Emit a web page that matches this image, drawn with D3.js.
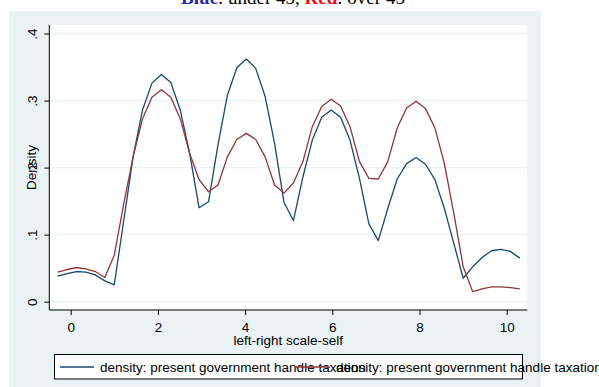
<!DOCTYPE html>
<html>
<head>
<meta charset="utf-8">
<script src="https://cdn.jsdelivr.net/npm/d3@7"></script>
<style>
  html, body { margin: 0; padding: 0; background: #ffffff; }
  svg { display: block; }
  text { font-family: "Liberation Sans", Arial, Helvetica, sans-serif; }
</style>
</head>
<body>
<svg id="chart" width="599" height="387"></svg>
<script>
// Kernel density estimates of the left-right self placement (0-10),
// evaluated on a common grid of 50 points.
const gridX = [
  -0.300, -0.084, 0.133, 0.349, 0.565, 0.782, 0.998, 1.214, 1.431, 1.647,
   1.863,  2.080, 2.296, 2.512, 2.729, 2.945, 3.161, 3.378, 3.594, 3.810,
   4.027,  4.243, 4.459, 4.676, 4.892, 5.108, 5.325, 5.541, 5.757, 5.974,
   6.190,  6.406, 6.623, 6.839, 7.055, 7.272, 7.488, 7.704, 7.921, 8.137,
   8.353,  8.570, 8.786, 9.002, 9.219, 9.435, 9.651, 9.868, 10.084, 10.300
];

// Respondents under 45
const densityUnder45 = [
  0.038, 0.042, 0.045, 0.044, 0.040, 0.031, 0.025, 0.120, 0.216, 0.286,
  0.326, 0.339, 0.327, 0.286, 0.221, 0.140, 0.149, 0.234, 0.308, 0.349,
  0.362, 0.348, 0.306, 0.236, 0.148, 0.121, 0.186, 0.241, 0.275, 0.286,
  0.275, 0.241, 0.184, 0.116, 0.091, 0.139, 0.183, 0.206, 0.215, 0.205,
  0.182, 0.139, 0.087, 0.035, 0.052, 0.066, 0.076, 0.078, 0.075, 0.065
];

// Respondents over 45
const densityOver45 = [
  0.044, 0.048, 0.051, 0.049, 0.045, 0.036, 0.069, 0.145, 0.216, 0.273,
  0.305, 0.316, 0.305, 0.273, 0.221, 0.182, 0.164, 0.174, 0.216, 0.242,
  0.251, 0.242, 0.216, 0.174, 0.162, 0.177, 0.209, 0.261, 0.291, 0.302,
  0.292, 0.261, 0.209, 0.184, 0.183, 0.209, 0.259, 0.289, 0.299, 0.288,
  0.259, 0.206, 0.132, 0.052, 0.015, 0.019, 0.022, 0.022, 0.021, 0.019
];

const xTicks = [0, 2, 4, 6, 8, 10];
const yTicks = [0, 0.1, 0.2, 0.3, 0.4];
const seriesLabels = [
  "density: present government handle taxation",
  "density: present government handle taxation"
];
const seriesColors = ["#1a476f", "#90353b"];

const svg = d3.select("#chart");

// Heading with coloured group names
const heading = svg.append("text")
  .attr("x", 293).attr("y", 4)
  .attr("text-anchor", "middle")
  .style("font-family", "'Liberation Serif', 'Times New Roman', serif")
  .style("font-size", "19px");
heading.append("tspan").attr("fill", "#2a2aa0").attr("font-weight", "bold").text("Blue");
heading.append("tspan").attr("fill", "#000").text(": under 45, ");
heading.append("tspan").attr("fill", "#e01010").attr("font-weight", "bold").text("Red");
heading.append("tspan").attr("fill", "#000").text(": over 45");

// Graph region
svg.append("rect")
  .attr("x", 9).attr("y", 11).attr("width", 532).attr("height", 380)
  .attr("fill", "#eaf2f3");

const plot = { left: 49.3, right: 527.3, top: 25, bottom: 310 };

svg.append("rect")
  .attr("x", plot.left).attr("y", plot.top)
  .attr("width", plot.right - plot.left).attr("height", plot.bottom - plot.top)
  .attr("fill", "#ffffff");

const x = d3.scaleLinear().domain([-0.491, 10.472]).range([plot.left, plot.right]);
const y = d3.scaleLinear().domain([-0.0124, 0.4127]).range([plot.bottom, plot.top]);

// Horizontal grid lines
svg.append("g")
  .selectAll("line")
  .data(yTicks)
  .join("line")
  .attr("x1", plot.left).attr("x2", plot.right)
  .attr("y1", d => y(d)).attr("y2", d => y(d))
  .attr("stroke", "#eaf2f3")
  .attr("stroke-width", 1.4);

// Density curves
const line = d3.line()
  .x(d => x(d[0]))
  .y(d => y(d[1]));

[densityUnder45, densityOver45].forEach((vals, i) => {
  svg.append("path")
    .datum(gridX.map((g, j) => [g, vals[j]]))
    .attr("fill", "none")
    .attr("stroke", seriesColors[i])
    .attr("stroke-width", 1.3)
    .attr("stroke-linejoin", "round")
    .attr("d", line);
});

// Y axis
const yAxis = svg.append("g")
  .attr("transform", `translate(${plot.left},0)`)
  .call(d3.axisLeft(y).tickValues(yTicks).tickSize(5)
    .tickFormat(d => d === 0 ? "0" : d3.format(".1f")(d).replace(/^0/, "")));
yAxis.select(".domain").attr("d", `M0,${plot.top}V${plot.bottom}`).attr("stroke", "#000");
yAxis.selectAll(".tick line").attr("stroke", "#000");
yAxis.selectAll(".tick text")
  .attr("transform", "rotate(-90)")
  .attr("x", 0).attr("y", -12).attr("dy", 0)
  .attr("text-anchor", "middle")
  .attr("fill", "#000")
  .style("font-size", "13.5px");

// X axis
const xAxis = svg.append("g")
  .attr("transform", `translate(0,${plot.bottom})`)
  .call(d3.axisBottom(x).tickValues(xTicks).tickSize(5).tickFormat(d3.format("d")));
xAxis.select(".domain").attr("d", `M${plot.left},0H${plot.right}`).attr("stroke", "#000");
xAxis.selectAll(".tick line").attr("stroke", "#000");
xAxis.selectAll(".tick text")
  .attr("y", 12).attr("dy", "0.71em")
  .attr("fill", "#000")
  .style("font-size", "13.5px");

// Axis titles
svg.append("text")
  .attr("x", (plot.left + plot.right) / 2).attr("y", 345)
  .attr("text-anchor", "middle")
  .style("font-size", "13.5px")
  .text("left-right scale-self");

svg.append("text")
  .attr("transform", `translate(36,${(plot.top + plot.bottom) / 2}) rotate(-90)`)
  .attr("text-anchor", "middle")
  .style("font-size", "13.5px")
  .text("Density");

// Legend
svg.append("rect")
  .attr("x", 54.5).attr("y", 354.5).attr("width", 468).attr("height", 24.5)
  .attr("fill", "#ffffff").attr("stroke", "#000").attr("stroke-width", 1);

const legendCols = [60, 296];
seriesLabels.forEach((label, i) => {
  const g = svg.append("g").attr("transform", `translate(${legendCols[i]},367)`);
  g.append("line").attr("x1", 0).attr("x2", 34).attr("y1", 0).attr("y2", 0)
    .attr("stroke", seriesColors[i]).attr("stroke-width", 1.3);
  g.append("text").attr("x", 40).attr("y", 4.5)
    .style("font-size", "13.5px").text(label);
});
</script>
</body>
</html>
